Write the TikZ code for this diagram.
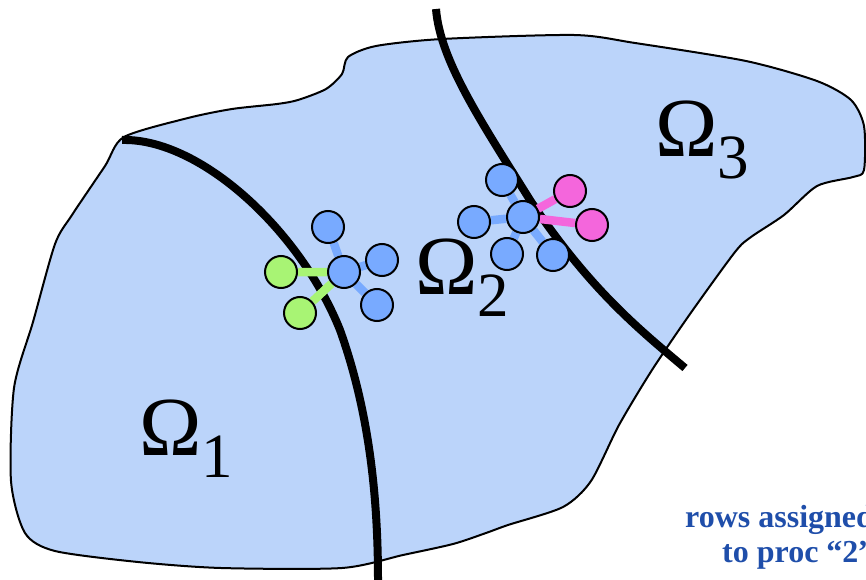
\documentclass[tikz,border=0pt]{standalone}
\usepackage{fontspec}
\setmainfont{Liberation Serif}
\pgfdeclarelayer{domain}
\pgfdeclarelayer{links}
\pgfsetlayers{domain,links,main}
\definecolor{regionfill}{HTML}{BBD4FA}
\definecolor{vtxblue}{HTML}{78AAFF}
\definecolor{vtxgreen}{HTML}{A8F474}
\definecolor{vtxpink}{HTML}{F466DC}
\definecolor{notecolor}{HTML}{1F4EAA}
\tikzset{
  vtx/.style={circle, draw=black, line width=2pt, minimum size=32pt, inner sep=0pt},
  own/.style={vtx, fill=vtxblue},
  ghostA/.style={vtx, fill=vtxgreen},
  ghostB/.style={vtx, fill=vtxpink},
  link/.style={line width=8.5pt},
  cut/.style={line width=8pt, black},
  sublabel/.style={inner sep=0pt, anchor=base west},
  note/.style={inner sep=0pt, anchor=base west, text=notecolor,
    font=\fontsize{32}{32}\selectfont\bfseries}
}
\newcommand{\omegasub}[1]{{\fontsize{84}{84}\selectfont Ω}\raisebox{-22pt}{\fontsize{63}{63}\selectfont #1}}
\begin{document}
\begin{tikzpicture}[x=1pt,y=-1pt]
\useasboundingbox (0,0) rectangle (866,580);

% the domain and its partition boundaries
\begin{pgfonlayer}{domain}
\fill[regionfill, draw=black, line width=2pt]
  plot[smooth cycle, tension=0.45] coordinates {
    (124,137) (188,118) (232,109) (277,104) (298,100) (326,89) (342,74)
    (348,57) (376,46) (442,39) (574,35) (635,43) (746,61) (817,81)
    (851,100) (864,126) (864,170) (853,177) (817,186) (784,215) (751,237)
    (735,252) (690,314) (652,370) (619,425) (591,481) (563,507) (508,525)
    (486,533) (453,544) (403,555) (342,568) (221,568) (138,562) (55,551)
    (25,533) (11,481) (14,388) (33,322) (55,244) (72,215) (105,166)};
\draw[cut] (122,140) .. controls (200,138) and (300,230) .. (340,330)
  .. controls (365,400) and (378,480) .. (378,580);
\draw[cut] (436,9) .. controls (440,60) and (480,120) .. (530,200)
  .. controls (590,290) and (640,330) .. (685,368);
\end{pgfonlayer}

% vertices near the boundary between subdomains 1 and 2
\node[own] (c1) at (344,272) {};
\node[own] (c1t) at (328,227) {};
\node[own] (c1r) at (382,260) {};
\node[own] (c1b) at (377,305) {};
\node[ghostA] (g1a) at (281,272) {};
\node[ghostA] (g1b) at (300,313) {};

% vertices near the boundary between subdomains 2 and 3
\node[own] (c2) at (523,217) {};
\node[own] (c2t) at (502,180) {};
\node[own] (c2l) at (474,222) {};
\node[own] (c2bl) at (507,254) {};
\node[own] (c2br) at (553,255) {};
\node[ghostB] (g2a) at (570,191) {};
\node[ghostB] (g2b) at (592,225) {};

\begin{pgfonlayer}{links}
\draw[link, vtxblue] (c1) -- (c1t) (c1) -- (c1r) (c1) -- (c1b);
\draw[link, vtxgreen] (c1) -- (g1a) (c1) -- (g1b);
\draw[link, vtxblue] (c2) -- (c2t) (c2) -- (c2l) (c2) -- (c2bl) (c2) -- (c2br);
\draw[link, vtxpink] (c2) -- (g2a) (c2) -- (g2b);
\end{pgfonlayer}

% subdomain labels
\node[sublabel] (om1) at (139,455) {\omegasub{1}};
\node[sublabel] (om2) at (415,294) {\omegasub{2}};
\node[sublabel] (om3) at (655,157) {\omegasub{3}};

% annotation
\node[note] (note1) at (685,527) {rows assigned};
\node[note] (note2) at (722,562) {to proc “2”};
\end{tikzpicture}
\end{document}
